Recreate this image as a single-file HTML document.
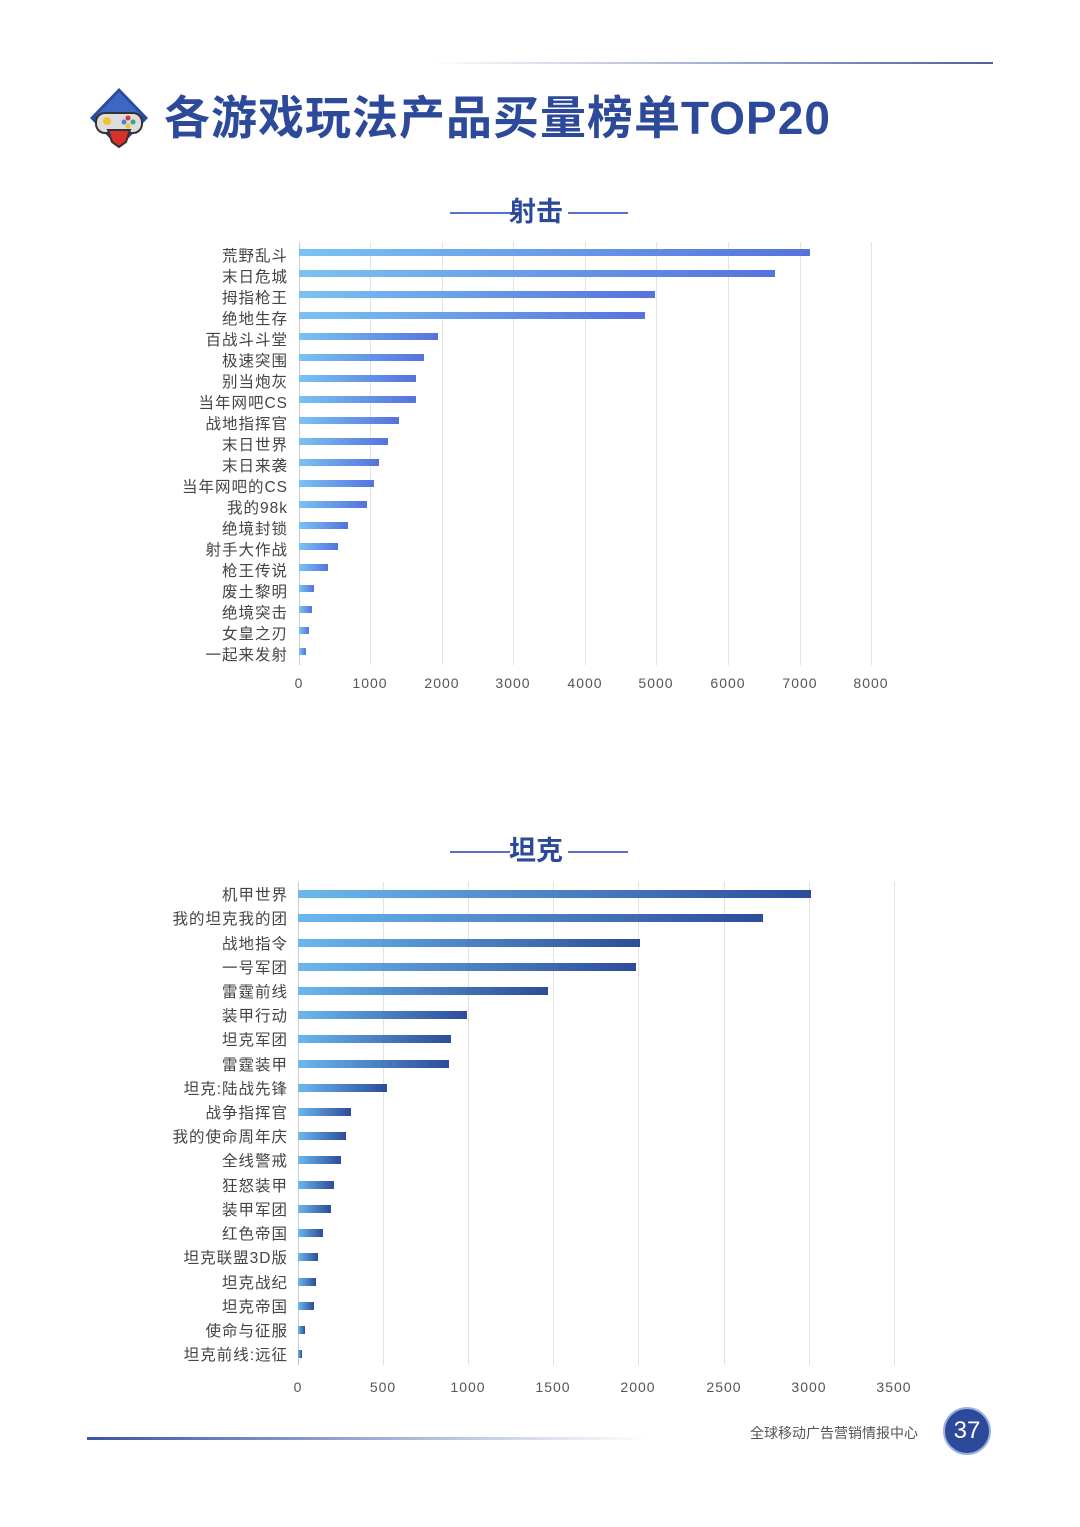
<!DOCTYPE html><html><head><meta charset="utf-8"><style>
body{margin:0;width:1080px;height:1527px;background:#fff;position:relative;overflow:hidden;font-family:"Liberation Sans","Noto Sans CJK SC",sans-serif;}
.a{position:absolute}
.lb{position:absolute;right:793px;font-size:15.5px;letter-spacing:1px;margin-right:-1px;color:#444;white-space:nowrap;line-height:16px}
.g{position:absolute;width:1px;background:#e2e2e2}
.t{position:absolute;font-size:14px;color:#555;width:60px;text-align:center;margin-left:-30px;letter-spacing:1px}
.b1{position:absolute;left:299px;height:7px;background:linear-gradient(90deg,#79c3f3,#5672dd)}
.b2{position:absolute;left:298px;height:8px;background:linear-gradient(90deg,#6ab8ee,#2d4c9a)}
</style></head><body>
<div class="a" style="left:430px;top:62px;width:563px;height:2px;background:linear-gradient(90deg,#fff,#4a5fa8)"></div>
<svg class="a" style="left:86px;top:86px" width="66" height="64" viewBox="0 0 66 64">
<polygon points="33,2 62,32 33,62 4,32" fill="#2a4a9a"/><polygon points="33,6 56,30 10,30" fill="#3e67c4"/>
<rect x="10" y="27" width="46" height="20" rx="9" fill="#ddd" stroke="#333" stroke-width="2"/>
<path d="M22,44 L44,44 L40,56 L33,61 L26,56Z" fill="#d9302a" stroke="#333" stroke-width="2"/>
<circle cx="21" cy="35" r="4" fill="#f2c230"/><circle cx="42" cy="32" r="2.5" fill="#d33"/><circle cx="47" cy="36" r="2.5" fill="#3a7"/><circle cx="38" cy="36" r="2.5" fill="#48c"/><circle cx="42" cy="40" r="2.5" fill="#f2c230"/></svg>
<div class="a" style="left:164px;top:88px;font-size:46px;font-weight:bold;color:#2d4a9a;letter-spacing:1px;line-height:60px">各游戏玩法产品买量榜单TOP20</div>

<div class="a" style="left:450px;top:212px;width:60px;height:2px;background:#5a70c8"></div>
<div class="a" style="left:568px;top:212px;width:60px;height:2px;background:#5a70c8"></div>
<div class="a" style="left:509px;top:196px;font-size:27px;font-weight:bold;color:#2d4a9a;line-height:32px">射击</div>
<div class="a" style="left:450px;top:851px;width:60px;height:2px;background:#5a70c8"></div>
<div class="a" style="left:568px;top:851px;width:60px;height:2px;background:#5a70c8"></div>
<div class="a" style="left:509px;top:835px;font-size:27px;font-weight:bold;color:#2d4a9a;line-height:32px">坦克</div>

<div class="g" style="left:299px;top:242px;height:423px;background:#ccc"></div>
<div class="g" style="left:370px;top:242px;height:423px"></div><div class="g" style="left:442px;top:242px;height:423px"></div><div class="g" style="left:513px;top:242px;height:423px"></div><div class="g" style="left:585px;top:242px;height:423px"></div><div class="g" style="left:656px;top:242px;height:423px"></div><div class="g" style="left:728px;top:242px;height:423px"></div><div class="g" style="left:800px;top:242px;height:423px"></div><div class="g" style="left:871px;top:242px;height:423px"></div>
<div class="t" style="left:299px;top:675px">0</div><div class="t" style="left:370px;top:675px">1000</div><div class="t" style="left:442px;top:675px">2000</div><div class="t" style="left:513px;top:675px">3000</div><div class="t" style="left:585px;top:675px">4000</div><div class="t" style="left:656px;top:675px">5000</div><div class="t" style="left:728px;top:675px">6000</div><div class="t" style="left:800px;top:675px">7000</div><div class="t" style="left:871px;top:675px">8000</div>

<div class="b1" style="top:249px;width:511px"></div><div class="lb" style="top:249px">荒野乱斗</div>
<div class="b1" style="top:270px;width:476px"></div><div class="lb" style="top:270px">末日危城</div>
<div class="b1" style="top:291px;width:356px"></div><div class="lb" style="top:291px">拇指枪王</div>
<div class="b1" style="top:312px;width:346px"></div><div class="lb" style="top:312px">绝地生存</div>
<div class="b1" style="top:333px;width:139px"></div><div class="lb" style="top:333px">百战斗斗堂</div>
<div class="b1" style="top:354px;width:125px"></div><div class="lb" style="top:354px">极速突围</div>
<div class="b1" style="top:375px;width:117px"></div><div class="lb" style="top:375px">别当炮灰</div>
<div class="b1" style="top:396px;width:117px"></div><div class="lb" style="top:396px">当年网吧CS</div>
<div class="b1" style="top:417px;width:100px"></div><div class="lb" style="top:417px">战地指挥官</div>
<div class="b1" style="top:438px;width:89px"></div><div class="lb" style="top:438px">末日世界</div>
<div class="b1" style="top:459px;width:80px"></div><div class="lb" style="top:459px">末日来袭</div>
<div class="b1" style="top:480px;width:75px"></div><div class="lb" style="top:480px">当年网吧的CS</div>
<div class="b1" style="top:501px;width:68px"></div><div class="lb" style="top:501px">我的98k</div>
<div class="b1" style="top:522px;width:49px"></div><div class="lb" style="top:522px">绝境封锁</div>
<div class="b1" style="top:543px;width:39px"></div><div class="lb" style="top:543px">射手大作战</div>
<div class="b1" style="top:564px;width:29px"></div><div class="lb" style="top:564px">枪王传说</div>
<div class="b1" style="top:585px;width:15px"></div><div class="lb" style="top:585px">废土黎明</div>
<div class="b1" style="top:606px;width:13px"></div><div class="lb" style="top:606px">绝境突击</div>
<div class="b1" style="top:627px;width:10px"></div><div class="lb" style="top:627px">女皇之刃</div>
<div class="b1" style="top:648px;width:7px"></div><div class="lb" style="top:648px">一起来发射</div>

<div class="g" style="left:298px;top:882px;height:483px;background:#ccc"></div>
<div class="g" style="left:383px;top:882px;height:483px"></div><div class="g" style="left:468px;top:882px;height:483px"></div><div class="g" style="left:553px;top:882px;height:483px"></div><div class="g" style="left:638px;top:882px;height:483px"></div><div class="g" style="left:724px;top:882px;height:483px"></div><div class="g" style="left:809px;top:882px;height:483px"></div><div class="g" style="left:894px;top:882px;height:483px"></div>
<div class="t" style="left:298px;top:1379px">0</div><div class="t" style="left:383px;top:1379px">500</div><div class="t" style="left:468px;top:1379px">1000</div><div class="t" style="left:553px;top:1379px">1500</div><div class="t" style="left:638px;top:1379px">2000</div><div class="t" style="left:724px;top:1379px">2500</div><div class="t" style="left:809px;top:1379px">3000</div><div class="t" style="left:894px;top:1379px">3500</div>

<div class="b2" style="top:890px;width:513px"></div><div class="lb" style="top:888px">机甲世界</div>
<div class="b2" style="top:914px;width:465px"></div><div class="lb" style="top:912px">我的坦克我的团</div>
<div class="b2" style="top:939px;width:342px"></div><div class="lb" style="top:937px">战地指令</div>
<div class="b2" style="top:963px;width:338px"></div><div class="lb" style="top:961px">一号军团</div>
<div class="b2" style="top:987px;width:250px"></div><div class="lb" style="top:985px">雷霆前线</div>
<div class="b2" style="top:1011px;width:169px"></div><div class="lb" style="top:1009px">装甲行动</div>
<div class="b2" style="top:1035px;width:153px"></div><div class="lb" style="top:1033px">坦克军团</div>
<div class="b2" style="top:1060px;width:151px"></div><div class="lb" style="top:1058px">雷霆装甲</div>
<div class="b2" style="top:1084px;width:89px"></div><div class="lb" style="top:1082px">坦克:陆战先锋</div>
<div class="b2" style="top:1108px;width:53px"></div><div class="lb" style="top:1106px">战争指挥官</div>
<div class="b2" style="top:1132px;width:48px"></div><div class="lb" style="top:1130px">我的使命周年庆</div>
<div class="b2" style="top:1156px;width:43px"></div><div class="lb" style="top:1154px">全线警戒</div>
<div class="b2" style="top:1181px;width:36px"></div><div class="lb" style="top:1179px">狂怒装甲</div>
<div class="b2" style="top:1205px;width:33px"></div><div class="lb" style="top:1203px">装甲军团</div>
<div class="b2" style="top:1229px;width:25px"></div><div class="lb" style="top:1227px">红色帝国</div>
<div class="b2" style="top:1253px;width:20px"></div><div class="lb" style="top:1251px">坦克联盟3D版</div>
<div class="b2" style="top:1278px;width:18px"></div><div class="lb" style="top:1276px">坦克战纪</div>
<div class="b2" style="top:1302px;width:16px"></div><div class="lb" style="top:1300px">坦克帝国</div>
<div class="b2" style="top:1326px;width:7px"></div><div class="lb" style="top:1324px">使命与征服</div>
<div class="b2" style="top:1350px;width:4px"></div><div class="lb" style="top:1348px">坦克前线:远征</div>

<div class="a" style="left:87px;top:1437px;width:560px;height:3px;background:linear-gradient(90deg,#3a55a8,#fff)"></div>
<div class="a" style="left:750px;top:1423px;font-size:14px;color:#555">全球移动广告营销情报中心</div>
<div class="a" style="left:943px;top:1407px;width:44px;height:44px;border-radius:50%;background:#2d4a9a;border:2px solid #9ab0e0;color:#fff;font-size:24px;text-align:center;line-height:44px">37</div>
</body></html>
